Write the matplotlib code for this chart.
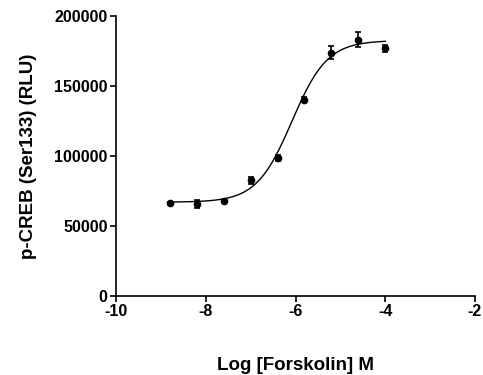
import numpy as np
import matplotlib.pyplot as plt

plt.rcParams["font.family"] = ["Liberation Sans", "DejaVu Sans"]
plt.rcParams["font.weight"] = "bold"

# Measured points (log molar forskolin vs p-CREB signal)
log_conc = [-8.8, -8.2, -7.6, -7.0, -6.4, -5.8, -5.2, -4.6, -4.0]
signal = [66600, 65800, 67600, 82800, 98400, 140200, 173800, 183000, 177000]
sem = [800, 3000, 700, 2500, 2200, 1800, 4500, 5500, 2500]

# Four-parameter logistic fit
bottom = 67000
top = 182500
log_ec50 = -6.08
hill = 1.1

x_fit = np.linspace(min(log_conc), max(log_conc), 300)
y_fit = bottom + (top - bottom) / (1 + 10 ** ((log_ec50 - x_fit) * hill))

fig = plt.figure(figsize=(4.83, 3.75), dpi=100)
ax = fig.add_axes([116 / 483, 1 - 296 / 375, 359 / 483, 280 / 375])

ax.plot(x_fit, y_fit, color="black", linewidth=1.0)
ax.errorbar(log_conc, signal, yerr=sem, fmt="o", color="black",
            markersize=4.5, capsize=2.5, elinewidth=1.2, capthick=1.2)

ax.set_xlim(-10, -2)
ax.set_ylim(0, 200000)
ax.set_xticks([-10, -8, -6, -4, -2])
ax.set_yticks([0, 50000, 100000, 150000, 200000])
ax.set_xticklabels(["-10", "-8", "-6", "-4", "-2"])
ax.set_yticklabels(["0", "50000", "100000", "150000", "200000"])

for side in ["top", "right"]:
    ax.spines[side].set_visible(False)
for side in ["left", "bottom"]:
    ax.spines[side].set_linewidth(1.2)

ax.tick_params(direction="out", length=4, width=1.2, labelsize=11.5, pad=2)

ax.set_xlabel("Log [Forskolin] M", fontsize=13.5, fontweight="bold", labelpad=27)
ax.set_ylabel("p-CREB (Ser133) (RLU)", fontsize=13.5, fontweight="bold", labelpad=12)

fig.savefig("out.png", dpi=100)
